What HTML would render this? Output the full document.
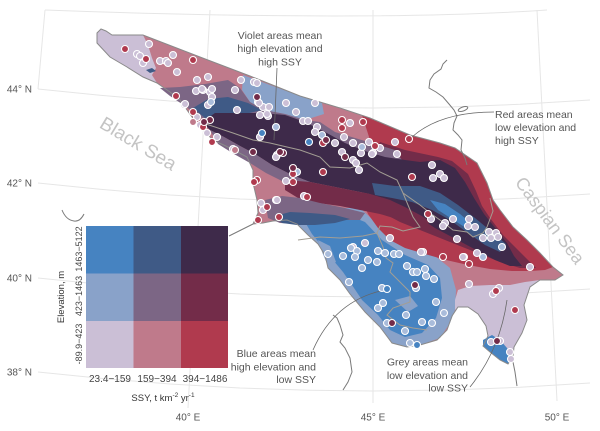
<!DOCTYPE html>
<html><head><meta charset="utf-8"><style>
html,body{margin:0;padding:0;background:#fff;}
svg{display:block;font-family:"Liberation Sans",sans-serif;}
</style></head><body>
<svg width="600" height="431" viewBox="0 0 600 431" xmlns="http://www.w3.org/2000/svg">
<rect width="600" height="431" fill="#fff"/>
<!-- graticule -->
<g fill="none" stroke="#e6e6e6" stroke-width="1">
<polyline points="38,89 100,95.3 170,101 240,105 310,107.3 373,108 450,107 520,104.3 590,100"/>
<polyline points="38,183 100,189.3 170,195 240,199 310,201.3 373,202 450,201 520,198.3 590,194"/>
<polyline points="38,278 100,284.3 170,290 240,294 310,296.3 373,297 450,296 520,293.3 590,289"/>
<polyline points="38,372 100,378.3 170,384 240,388 310,390.3 373,391 450,390 520,387.3 590,383"/>
<path d="M45,10 Q373,22 547,10"/>
<line x1="45" y1="10" x2="38" y2="89"/>
<line x1="210" y1="10" x2="188" y2="408"/>
<line x1="373" y1="10" x2="373" y2="403"/>
<line x1="537" y1="10" x2="557" y2="401"/>
</g>
<!-- map base -->
<polygon fill="#bf7a8b" points="97,33 101,29 106,31 112,35 143,35 200,57 250,76 300,96 340,108 370,118 410,135 440,143 455,148 477,163 487,183 493,200 500,210 513,227 527,240 540,253 553,267 563,275 555,280 540,280 530,287 524,305 527,320 522,333 514,347 513,357 508,364 500,360 490,352 483,346 488,336 486,326 478,314 468,307 458,307 452,316 447,330 437,340 420,345 407,347 392,343 380,327 365,312 350,294 340,280 328,268 325,255 318,244 308,235 297,224 287,220 273,221 263,223 253,224 258,213 257,200 253,183 253,170 247,157 230,148 213,140 200,127 192,117 187,110 180,100 170,92 157,83 143,77 127,67 110,57 97,43"/>
<!-- Taman lavender -->
<polygon fill="#cbbfd6" points="97,33 101,29 106,31 112,35 143,35 148,45 152,58 156,68 152,75 157,83 143,77 127,67 110,57 97,43"/>
<polygon fill="#3f5a86" points="146,70 152,68 156,71 150,73"/>
<!-- south block -->
<polygon fill="#89a2c9" points="297,224 310,214 335,208 360,208 375,222 393,236 415,248 435,256 450,268 456,290 455,310 450,323 440,338 420,345 407,347 392,343 380,327 365,312 350,294 340,280 328,268 325,255 318,244 308,235"/>
<polygon fill="#4683c1" points="305,222 320,216 345,214 365,222 382,240 405,255 428,265 440,278 442,298 436,318 422,333 405,337 390,330 378,315 362,300 352,285 343,272 333,260 322,246 312,234"/>
<polygon fill="#89a2c9" points="318,240 330,246 336,262 328,266 322,252"/>
<polygon fill="#89a2c9" points="395,300 410,296 418,306 408,312"/>
<!-- SE lavender -->
<polygon fill="#cbbfd6" points="455,300 458,290 470,286 490,285 510,285 525,282 540,280 530,287 524,305 527,320 522,333 514,347 513,357 508,364 500,360 490,352 483,346 488,336 486,326 478,314 468,307 458,307 455,310"/>
<polygon fill="#4683c1" points="483,340 492,335 500,340 507,348 511,356 508,364 500,360 490,352 483,346"/>
<!-- NE red -->
<polygon fill="#b03a4e" points="362,115 370,118 410,135 440,143 455,148 477,163 487,183 493,200 500,210 513,227 527,240 540,253 553,267 545,270 530,271 512,271 490,269 468,265 446,260 425,254 405,248 390,240 378,228 368,214 362,200 365,180 372,160 370,140"/>
<!-- NE dark red -->
<polygon fill="#732c49" points="380,142 405,150 438,157 452,161 468,174 476,191 482,206 490,218 503,235 516,248 528,260 536,268 520,268 500,262 480,254 460,246 440,238 420,230 400,222 385,214 372,205 368,190 370,170 374,154"/>
<!-- north light blue -->
<polygon fill="#89a2c9" points="243,75 270,85 300,96 322,103 324,114 305,120 285,114 264,110 250,102 242,90"/>
<!-- north mauve -->
<polygon fill="#7c6685" points="160,88 180,87 205,84 228,80 240,88 250,102 264,110 285,114 305,120 320,122 335,132 355,138 375,144 395,150 402,160 380,162 350,158 320,148 290,140 260,133 235,130 215,124 200,117 185,106 170,96"/>
<polygon fill="#3f5a86" points="193,108 208,99 228,97 248,103 262,110 245,114 225,114 205,118"/>
<!-- ridge dark purple -->
<polygon fill="#3e2a4a" points="202,122 215,113 240,113 262,113 285,115 305,122 325,132 345,143 365,151 385,157 405,160 420,162 440,160 455,168 465,182 474,198 484,214 496,229 507,243 514,256 522,266 510,266 495,260 480,252 465,244 450,236 435,228 420,218 405,208 390,200 370,194 350,190 330,186 310,182 292,175 272,165 255,154 240,146 224,137 210,130"/>
<!-- blue streak -->
<polygon fill="#3f5a86" points="372,183 395,186 420,186 440,193 458,205 475,218 492,232 506,244 500,252 485,245 468,233 450,220 432,210 412,202 392,198 375,195"/>
<polygon fill="#4683c1" points="430,200 445,204 460,214 472,224 466,228 452,219 438,210"/>
<!-- south mauve and dark red -->
<polygon fill="#7c6685" points="210,130 224,137 240,146 255,154 272,165 292,175 310,182 302,188 284,182 266,173 250,163 234,154 218,144"/>
<polygon fill="#732c49" points="285,180 310,182 330,186 350,190 370,194 390,200 405,207 420,215 432,222 420,226 400,220 380,214 360,210 340,206 318,203 298,198 285,190"/>
<polygon fill="#7c6685" points="265,200 282,196 300,198 320,203 345,208 365,213 360,220 340,220 320,222 300,224 280,223 268,218"/>
<polygon fill="#3f5a86" points="275,216 290,212 310,213 335,215 350,219 335,223 315,225 297,225 282,223"/>
<!-- outline -->
<polygon fill="none" stroke="#8a8a8a" stroke-width="1" points="97,33 101,29 106,31 112,35 143,35 200,57 250,76 300,96 340,108 370,118 410,135 440,143 455,148 477,163 487,183 493,200 500,210 513,227 527,240 540,253 553,267 563,275 555,280 540,280 530,287 524,305 527,320 522,333 514,347 513,357 508,364 500,360 490,352 483,346 488,336 486,326 478,314 468,307 458,307 452,316 447,330 437,340 420,345 407,347 392,343 380,327 365,312 350,294 340,280 328,268 325,255 318,244 308,235 297,224 287,220 273,221 263,223 253,224 258,213 257,200 253,183 253,170 247,157 230,148 213,140 200,127 192,117 187,110 180,100 170,92 157,83 143,77 127,67 110,57 97,43"/>
<!-- internal borders -->
<g fill="none" stroke="#a39e94" stroke-width="1">
<polyline points="203,123 233,133 253,140 270,143 287,147 300,150 320,157 330,167 350,168 367,163 380,172 397,180 403,193 420,205 430,213 440,220 453,230 467,232 473,237 483,233 487,227 493,211 490,198"/>
<polyline points="298,240 320,237 340,238 363,236 377,233 383,247 386,258 393,263 390,272 400,282 410,292 410,302 393,308 387,315 400,325 413,328 427,330"/>
<polyline points="377,233 380,226 392,227 403,231 420,227 413,217 403,193"/>
</g>
<!-- external lines -->
<g fill="none" stroke="#7a7a7a" stroke-width="1">
<polyline points="447,60 443,64 441,69 434,74 430,80 429,88 436,92 443,97 449,104 454,110 457,116 454,123 453,130 458,135 462,140 461,150 465,158 467,165"/>
<ellipse cx="463" cy="109" rx="5" ry="2" transform="rotate(-20 463 109)"/>
<path d="M62,210 Q66,220 74,221 Q80,222 84,214"/>
<polyline points="229,236 237,232 245,228 253,224"/>
<polyline points="333,315 337,318 340,325 343,335 340,342 345,348 350,358 352,372 348,382 343,390"/>
<polyline points="513,362 515,372 517,386"/>
</g>
<!-- leaders -->
<g fill="none" stroke="#666" stroke-width="0.8">
<path d="M277,68 L274,140"/>
<path d="M494,112 Q440,112 412,137"/>
<path d="M313,350 Q335,300 385,290"/>
<path d="M470,387 Q500,350 507,300"/>
</g>
<!-- markers -->
<g stroke="#fff" stroke-width="1.1" fill="#cbbfd6">
<circle cx="137" cy="54" r="3.5"/><circle cx="140" cy="56" r="3.5"/><circle cx="143" cy="63" r="3.5"/><circle cx="160" cy="61" r="3.5"/><circle cx="166" cy="61" r="3.5"/><circle cx="173" cy="55" r="3.5"/><circle cx="168" cy="63" r="3.5"/><circle cx="149" cy="44" r="3.5"/><circle cx="177" cy="72" r="3.5"/><circle cx="197" cy="80" r="3.5"/><circle cx="208" cy="77" r="3.5"/><circle cx="241" cy="80" r="3.5"/><circle cx="254" cy="82" r="3.5"/><circle cx="235" cy="90" r="3.5"/><circle cx="203" cy="90" r="3.5"/><circle cx="196" cy="91" r="3.5"/><circle cx="210" cy="92" r="3.5"/><circle cx="212" cy="97" r="3.5"/><circle cx="184" cy="105" r="3.5"/><circle cx="208" cy="105" r="3.5"/><circle cx="258" cy="102" r="3.5"/><circle cx="263" cy="107" r="3.5"/><circle cx="269" cy="107" r="3.5"/><circle cx="237" cy="110" r="3.5"/><circle cx="197" cy="117" r="3.5"/><circle cx="200" cy="125" r="3.5"/><circle cx="207" cy="133" r="3.5"/><circle cx="260" cy="115" r="3.5"/><circle cx="268" cy="116" r="3.5"/><circle cx="260" cy="137" r="3.5"/><circle cx="277" cy="155" r="3.5"/><circle cx="286" cy="181" r="3.5"/><circle cx="295" cy="173" r="3.5"/><circle cx="276" cy="200" r="3.5"/><circle cx="261" cy="203" r="3.5"/><circle cx="263" cy="210" r="3.5"/><circle cx="202" cy="89" r="3.5"/><circle cx="212" cy="89" r="3.5"/><circle cx="185" cy="104" r="3.5"/><circle cx="217" cy="137" r="3.5"/><circle cx="233" cy="149" r="3.5"/><circle cx="257" cy="83" r="3.5"/><circle cx="259" cy="103" r="3.5"/><circle cx="267" cy="114" r="3.5"/><circle cx="286" cy="103" r="3.5"/><circle cx="296" cy="112" r="3.5"/><circle cx="303" cy="121" r="3.5"/><circle cx="308" cy="121" r="3.5"/><circle cx="317" cy="127" r="3.5"/><circle cx="315" cy="132" r="3.5"/><circle cx="335" cy="143" r="3.5"/><circle cx="350" cy="123" r="3.5"/><circle cx="344" cy="137" r="3.5"/><circle cx="353" cy="143" r="3.5"/><circle cx="369" cy="142" r="3.5"/><circle cx="373" cy="153" r="3.5"/><circle cx="276" cy="157" r="3.5"/><circle cx="342" cy="152" r="3.5"/><circle cx="353" cy="160" r="3.5"/><circle cx="356" cy="163" r="3.5"/><circle cx="359" cy="170" r="3.5"/><circle cx="304" cy="196" r="3.5"/><circle cx="277" cy="200" r="3.5"/><circle cx="353" cy="247" r="3.5"/><circle cx="365" cy="243" r="3.5"/><circle cx="315" cy="103" r="3.5"/><circle cx="380" cy="148" r="3.5"/><circle cx="372" cy="154" r="3.5"/><circle cx="361" cy="153" r="3.5"/><circle cx="395" cy="142" r="3.5"/><circle cx="397" cy="154" r="3.5"/><circle cx="432" cy="165" r="3.5"/><circle cx="433" cy="178" r="3.5"/><circle cx="440" cy="174" r="3.5"/><circle cx="444" cy="178" r="3.5"/><circle cx="431" cy="219" r="3.5"/><circle cx="445" cy="223" r="3.5"/><circle cx="453" cy="219" r="3.5"/><circle cx="443" cy="226" r="3.5"/><circle cx="469" cy="219" r="3.5"/><circle cx="468" cy="226" r="3.5"/><circle cx="475" cy="227" r="3.5"/><circle cx="489" cy="232" r="3.5"/><circle cx="496" cy="233" r="3.5"/><circle cx="498" cy="237" r="3.5"/><circle cx="491" cy="238" r="3.5"/><circle cx="483" cy="238" r="3.5"/><circle cx="457" cy="239" r="3.5"/><circle cx="477" cy="253" r="3.5"/><circle cx="464" cy="257" r="3.5"/><circle cx="423" cy="252" r="3.5"/><circle cx="390" cy="238" r="3.5"/><circle cx="530" cy="267" r="3.5"/><circle cx="469" cy="284" r="3.5"/><circle cx="421" cy="252" r="3.5"/><circle cx="463" cy="257" r="3.5"/><circle cx="493" cy="294" r="3.5"/><circle cx="499" cy="288" r="3.5"/><circle cx="491" cy="342" r="3.5"/><circle cx="500" cy="341" r="3.5"/><circle cx="510" cy="352" r="3.5"/><circle cx="511" cy="359" r="3.5"/>
</g>
<g stroke="#fff" stroke-width="1.1" fill="#a9bcdb">
<circle cx="328" cy="254" r="3.5"/><circle cx="343" cy="256" r="3.5"/><circle cx="351" cy="248" r="3.5"/><circle cx="357" cy="251" r="3.5"/><circle cx="355" cy="257" r="3.5"/><circle cx="368" cy="260" r="3.5"/><circle cx="378" cy="251" r="3.5"/><circle cx="385" cy="253" r="3.5"/><circle cx="394" cy="254" r="3.5"/><circle cx="399" cy="254" r="3.5"/><circle cx="362" cy="268" r="3.5"/><circle cx="377" cy="262" r="3.5"/><circle cx="407" cy="266" r="3.5"/><circle cx="413" cy="272" r="3.5"/><circle cx="417" cy="272" r="3.5"/><circle cx="425" cy="269" r="3.5"/><circle cx="426" cy="276" r="3.5"/><circle cx="349" cy="282" r="3.5"/><circle cx="382" cy="288" r="3.5"/><circle cx="416" cy="288" r="3.5"/><circle cx="434" cy="279" r="3.5"/><circle cx="436" cy="302" r="3.5"/><circle cx="444" cy="313" r="3.5"/><circle cx="378" cy="308" r="3.5"/><circle cx="383" cy="303" r="3.5"/><circle cx="387" cy="323" r="3.5"/><circle cx="406" cy="315" r="3.5"/><circle cx="422" cy="322" r="3.5"/><circle cx="432" cy="323" r="3.5"/><circle cx="405" cy="331" r="3.5"/><circle cx="410" cy="343" r="3.5"/>
<circle cx="211" cy="102" r="3.5"/><circle cx="276" cy="127" r="3.5"/><circle cx="322" cy="135" r="3.5"/><circle cx="362" cy="147" r="3.5"/><circle cx="297" cy="172" r="3.5"/><circle cx="502" cy="247" r="3.5"/><circle cx="483" cy="257" r="3.5"/>
</g>
<g stroke="#fff" stroke-width="1.1" fill="#4683c1">
<circle cx="262" cy="133" r="3.5"/><circle cx="309" cy="142" r="3.5"/><circle cx="387" cy="289" r="3.5"/><circle cx="417" cy="345" r="3.5"/>
</g>
<g stroke="#fff" stroke-width="1.1" fill="#b03a4e">
<circle cx="125" cy="49" r="3.5"/><circle cx="146" cy="59" r="3.5"/><circle cx="193" cy="60" r="3.5"/><circle cx="176" cy="96" r="3.5"/><circle cx="193" cy="112" r="3.5"/><circle cx="203" cy="127" r="3.5"/><circle cx="212" cy="142" r="3.5"/><circle cx="257" cy="180" r="3.5"/><circle cx="254" cy="182" r="3.5"/><circle cx="293" cy="182" r="3.5"/><circle cx="267" cy="207" r="3.5"/><circle cx="323" cy="143" r="3.5"/><circle cx="342" cy="120" r="3.5"/><circle cx="342" cy="128" r="3.5"/><circle cx="363" cy="122" r="3.5"/><circle cx="293" cy="174" r="3.5"/><circle cx="323" cy="172" r="3.5"/><circle cx="307" cy="197" r="3.5"/><circle cx="279" cy="217" r="3.5"/><circle cx="258" cy="220" r="3.5"/><circle cx="375" cy="146" r="3.5"/><circle cx="409" cy="139" r="3.5"/><circle cx="412" cy="177" r="3.5"/><circle cx="428" cy="214" r="3.5"/><circle cx="469" cy="264" r="3.5"/><circle cx="443" cy="257" r="3.5"/><circle cx="496" cy="291" r="3.5"/><circle cx="515" cy="310" r="3.5"/>
</g>
<g stroke="#fff" stroke-width="1.1" fill="#732c49">
<circle cx="257" cy="97" r="3.5"/><circle cx="210" cy="120" r="3.5"/><circle cx="204" cy="122" r="3.5"/><circle cx="253" cy="152" r="3.5"/><circle cx="283" cy="153" r="3.5"/><circle cx="293" cy="168" r="3.5"/><circle cx="326" cy="140" r="3.5"/><circle cx="280" cy="152" r="3.5"/><circle cx="345" cy="157" r="3.5"/><circle cx="392" cy="323" r="3.5"/><circle cx="497" cy="341" r="3.5"/><circle cx="415" cy="285" r="3.5"/>
</g>
<g stroke="#fff" stroke-width="1.1" fill="#bf7a8b">
<circle cx="193" cy="122" r="3.5"/><circle cx="235" cy="150" r="3.5"/>
</g>
<!-- legend -->
<rect x="86" y="226" width="47.5" height="47.5" fill="#4683c1"/>
<rect x="133.5" y="226" width="47.5" height="47.5" fill="#3f5a86"/>
<rect x="181" y="226" width="47" height="47.5" fill="#3e2a4a"/>
<rect x="86" y="273.5" width="47.5" height="47.5" fill="#89a2c9"/>
<rect x="133.5" y="273.5" width="47.5" height="47.5" fill="#7c6685"/>
<rect x="181" y="273.5" width="47" height="47.5" fill="#732c49"/>
<rect x="86" y="321" width="47.5" height="47" fill="#cbbfd6"/>
<rect x="133.5" y="321" width="47.5" height="47" fill="#bf7a8b"/>
<rect x="181" y="321" width="47" height="47" fill="#b03a4e"/>
<g font-size="10" fill="#444" text-anchor="middle">
<text x="110" y="382">23.4−159</text>
<text x="157" y="382">159−394</text>
<text x="205" y="382">394−1486</text>
</g>
<g font-size="9" fill="#444" text-anchor="middle">
<text transform="translate(82,249) rotate(-90)">1463−5122</text>
<text transform="translate(82,296) rotate(-90)">423−1463</text>
<text transform="translate(82,344) rotate(-90)">-89.9−423</text>
</g>
<text x="163" y="401" font-size="9.5" fill="#333" text-anchor="middle">SSY, t km<tspan font-size="6.5" dy="-4">-2</tspan><tspan dy="4"> yr</tspan><tspan font-size="6.5" dy="-4">-1</tspan></text>
<text transform="translate(64,297) rotate(-90)" font-size="9.5" fill="#333" text-anchor="middle">Elevation, m</text>
<!-- seas -->
<text transform="translate(135,149) rotate(31)" font-size="19" fill="#c4c4c4" text-anchor="middle">Black Sea</text>
<text transform="translate(545,224) rotate(53.5)" font-size="18" fill="#c4c4c4" text-anchor="middle">Caspian Sea</text>
<!-- annotations -->
<g font-size="10.5" fill="#555">
<text x="280" y="39" text-anchor="middle">Violet areas mean</text>
<text x="280" y="52" text-anchor="middle">high elevation and</text>
<text x="280" y="65.5" text-anchor="middle">high SSY</text>
<text x="495" y="118">Red areas mean</text>
<text x="495" y="131">low elevation and</text>
<text x="495" y="144">high SSY</text>
<text x="316" y="357" text-anchor="end">Blue areas mean</text>
<text x="316" y="370.5" text-anchor="end">high elevation and</text>
<text x="316" y="383" text-anchor="end">low SSY</text>
<text x="468" y="365.5" text-anchor="end">Grey areas mean</text>
<text x="468" y="379" text-anchor="end">low elevation and</text>
<text x="468" y="391.5" text-anchor="end">low SSY</text>
</g>
<g font-size="10" fill="#555">
<text x="32" y="92.5" text-anchor="end">44° N</text>
<text x="32" y="186.5" text-anchor="end">42° N</text>
<text x="32" y="281.5" text-anchor="end">40° N</text>
<text x="32" y="375.5" text-anchor="end">38° N</text>
<text x="188" y="420.5" text-anchor="middle">40° E</text>
<text x="373" y="420.5" text-anchor="middle">45° E</text>
<text x="557" y="420.5" text-anchor="middle">50° E</text>
</g>
</svg>
</body></html>
